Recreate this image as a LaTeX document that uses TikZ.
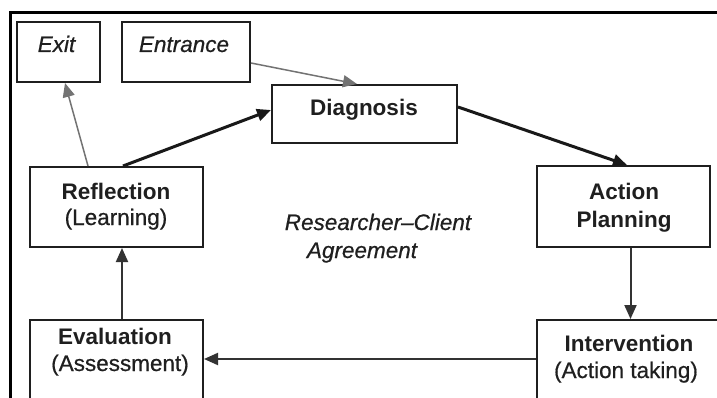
\documentclass[tikz,border=0pt]{standalone}
\usepackage{fontspec}
\setmainfont{Liberation Sans}
\newfontfamily\heavyreg[FakeBold=0.6]{Liberation Sans}
\usetikzlibrary{arrows.meta}
\begin{document}
\begin{tikzpicture}[x=1pt,y=-1pt,
  box/.style={draw=black!88, line width=2pt, inner sep=0pt},
  txt/.style={anchor=base, inner sep=0pt, text=black!88, font=\fontsize{22.5pt}{27pt}\heavyreg},
  btxt/.style={txt, font=\fontsize{22.5pt}{27pt}\selectfont\bfseries},
  itxt/.style={txt, font=\fontsize{22.5pt}{27pt}\heavyreg\itshape},
  tip/.style={-{Triangle[length=14pt,width=12pt]}},
  thickarr/.style={tip, draw=black!90, line width=3pt},
  midarr/.style={tip, draw=black!80, line width=2pt},
  thinarr/.style={tip, draw=black!55, line width=1.5pt}]
\clip (0,0) rectangle (717,398);
\fill[white] (0,0) rectangle (717,398);
% outer frame
\draw[line width=3pt, black] (10,420) -- (10,12.5) -- (730,12.5);
% boxes
\node[box, minimum width=83pt,  minimum height=60pt] (exit)   at (58.5,52)  {};
\node[box, minimum width=128pt, minimum height=60pt] (ent)    at (186,52)   {};
\node[box, minimum width=185pt, minimum height=58pt] (diag)   at (364.5,114){};
\node[box, minimum width=173pt, minimum height=80pt] (refl)   at (116.5,207){};
\node[box, minimum width=173pt, minimum height=81pt] (act)    at (623.5,206.5){};
\node[box, minimum width=173pt, minimum height=90pt] (eval)   at (116.5,365){};
\node[box, minimum width=188pt, minimum height=90pt] (interv) at (631,365)  {};
% texts
\node[itxt] (exitT) at (56.5,52) {Exit};
\node[itxt] (entT)  at (184,52)  {Entrance};
\node[btxt] (diagT) at (364,116) {Diagnosis};
\node[btxt] (reflA) at (116,200) {Reflection};
\node[txt]  (reflB) at (116,225) {(Learning)};
\node[btxt] (actA)  at (624,200) {Action};
\node[btxt] (actB)  at (624,227) {Planning};
\node[btxt] (evalA) at (115,344) {Evaluation};
\node[txt]  (evalB) at (120,371) {(Assessment)};
\node[btxt] (intA)  at (629,351) {Intervention};
\node[txt]  (intB)  at (626,378) {(Action taking)};
\node[itxt] (rcA)   at (378,230) {Researcher–Client};
\node[itxt] (rcB)   at (362,258) {Agreement};
% connectors
\draw[thinarr]  ([yshift=-11pt]ent.east) -- ([xshift=-7.5pt]diag.north);
\draw[thinarr]  ([xshift=-28.5pt]refl.north) -- ([xshift=6.5pt]exit.south);
\draw[thickarr] ([xshift=6.5pt]refl.north) -- ([yshift=4pt]diag.west);
\draw[thickarr] ([yshift=7pt]diag.east) -- ([xshift=3.5pt]act.north);
\draw[midarr]   ([xshift=7pt]act.south) -- ([xshift=7pt]act.south |- interv.north);
\draw[midarr]   ([yshift=6pt]interv.west) -- ([yshift=6pt]eval.east);
\draw[midarr]   ([xshift=5.5pt]eval.north) -- ([xshift=5.5pt]refl.south);
\end{tikzpicture}
\end{document}
